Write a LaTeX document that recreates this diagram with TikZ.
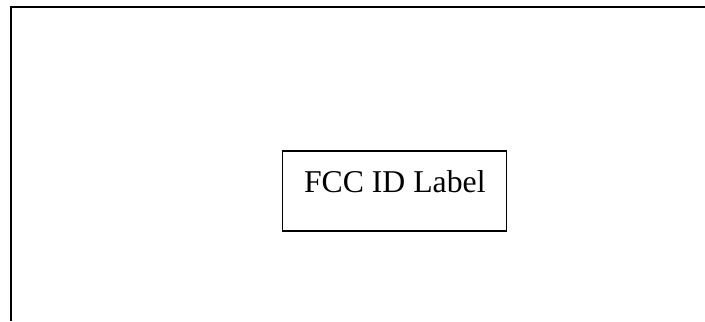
\documentclass[tikz,border=0pt]{standalone}
\usepackage{fontspec}
\setmainfont{Liberation Serif}
\tikzset{labelbox/.style={draw, line width=1pt, inner sep=0pt, minimum width=168pt, font=\fontsize{23.8}{28}\selectfont}}
\begin{document}
\begin{tikzpicture}[x=0.75pt,y=-0.75pt]
\useasboundingbox (0,0) rectangle (705,321);
\draw [line width=1.4pt] (11,321) -- (11,7) -- (705,7);
\node [labelbox, anchor=base, text height=30.75pt, text depth=29.25pt] (fcc) at (394.8,192) {FCC ID Label};
\end{tikzpicture}
\end{document}
